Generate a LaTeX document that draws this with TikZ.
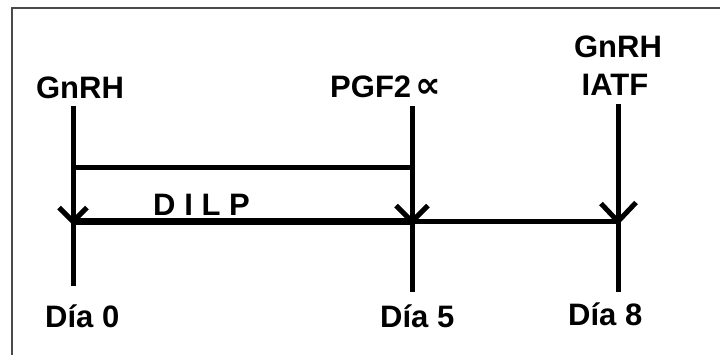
\documentclass[tikz,border=0pt]{standalone}
\usepackage{fontspec}
\setmainfont{Liberation Sans}
\newfontfamily\symfont{DejaVu Sans}
\definecolor{framegray}{HTML}{4A4A4A}
\begin{document}
\begin{tikzpicture}[x=1bp,y=-1bp,
  lbl/.style={font=\fontsize{31bp}{31bp}\selectfont\bfseries, inner sep=0pt, anchor=base},
  vline/.style={line width=5bp, black},
  upline/.style={line width=5bp, black},
  mainline/.style={line width=7.5bp, black},
  restline/.style={line width=5.5bp, black},
  veetip/.style={line width=5bp, black},
  framebox/.style={line width=2.5bp, draw=framegray}]
\useasboundingbox (0,0) rectangle (720,354);
\clip (0,0) rectangle (720,354);
\fill[white] (0,0) rectangle (720,354);
\draw[framebox] (12,8) rectangle (760,380);

% labels
\node[lbl] (g0) at (80,98) {GnRH};
\node[lbl, anchor=base west] (pgf) at (330,97) {PGF2\hspace{4bp}{\symfont\bfseries\fontsize{36bp}{36bp}\selectfont ∝}};
\node[lbl] (g8) at (618,57) {GnRH};
\node[lbl] (iatf) at (615,95) {IATF};
\node[lbl, anchor=base west] (dilp) at (153,215) {\addfontfeature{LetterSpace=28}DILP};
\node[lbl, anchor=base west] (d0) at (45,327) {Día 0};
\node[lbl, anchor=base west] (d5) at (380,327) {Día 5};
\node[lbl, anchor=base west] (d8) at (568,325) {Día 8};

% coordinates
\coordinate (top0) at (73,106);
\coordinate (bot0) at (73,286);
\coordinate (top5) at (412,106);
\coordinate (bot5) at (412,292);
\coordinate (top8) at (618,104);
\coordinate (bot8) at (618,292);
\coordinate (u0) at (73,167);
\coordinate (u5) at (412,167);
\coordinate (t0) at (73,221.5);
\coordinate (t5) at (412,221.5);
\coordinate (t8) at (618,221.5);

% lines
\draw[vline] (top0) -- (bot0);
\draw[vline] (top5) -- (bot5);
\draw[vline] (top8) -- (bot8);
\draw[upline] (u0) -- (u5);
\draw[mainline] (t0) -- (t5);
\draw[restline] (t5) -- (t8);

% arrow heads
\draw[veetip] ([shift={(-14,-14)}]t0) -- (t0) -- ([shift={(14,-14)}]t0);
\draw[veetip] ([shift={(-16,-16)}]t5) -- (t5) -- ([shift={(16,-16)}]t5);
\draw[veetip] ([shift={(-17,-18)}]t8) -- (t8) -- ([shift={(18,-19)}]t8);
\end{tikzpicture}
\end{document}
